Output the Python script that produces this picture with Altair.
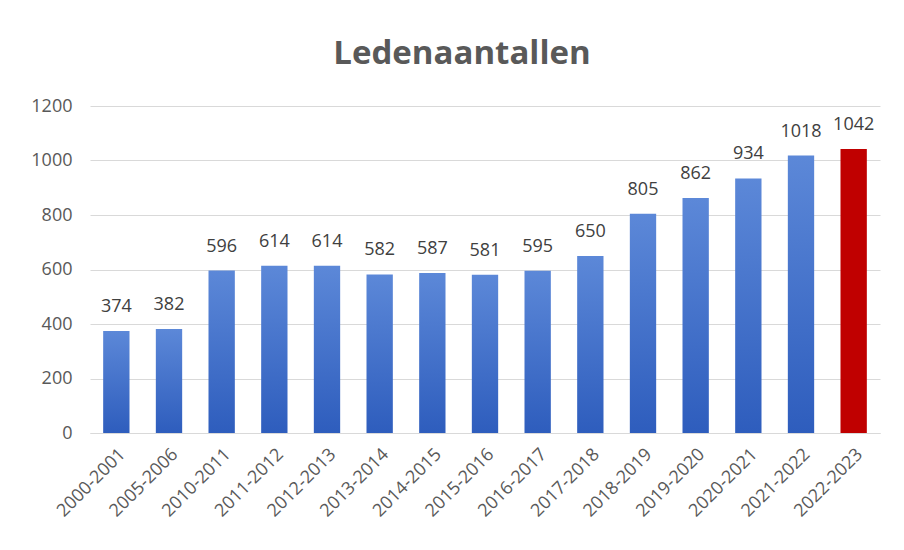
import altair as alt
import pandas as pd

seasons = ["2000-2001", "2005-2006", "2010-2011", "2011-2012", "2012-2013",
           "2013-2014", "2014-2015", "2015-2016", "2016-2017", "2017-2018",
           "2018-2019", "2019-2020", "2020-2021", "2021-2022", "2022-2023"]
members = [374, 382, 596, 614, 614, 582, 587, 581, 595, 650, 805, 862, 934, 1018, 1042]
highlight = [False] * 14 + [True]

df = pd.DataFrame({"seizoen": seasons, "leden": members, "laatste": highlight})

FONT = "Open Sans"

x = alt.X("seizoen:N", sort=seasons, title=None,
          scale=alt.Scale(paddingInner=0.5, paddingOuter=0.25),
          axis=alt.Axis(labelAngle=-45, labelAlign="right", labelBaseline="top",
                        labelFontSize=18, labelColor="#595959", labelFont=FONT,
                        ticks=False, domainColor="#d9d9d9", labelPadding=12))
y = alt.Y("leden:Q", title=None,
          scale=alt.Scale(domain=[0, 1200]),
          axis=alt.Axis(values=[0, 200, 400, 600, 800, 1000, 1200], format="d",
                        labelFontSize=18, labelColor="#595959", labelFont=FONT,
                        ticks=False, domain=False,
                        gridColor="#d9d9d9", labelPadding=18))

base = alt.Chart(df).encode(x=x, y=y)

blue = base.transform_filter("!datum.laatste").mark_bar(
    color=alt.Gradient(gradient="linear", x1=0, y1=0, x2=0, y2=1,
                       stops=[alt.GradientStop(color="#5c88d8", offset=0),
                              alt.GradientStop(color="#2e5dbd", offset=1)]))
red = base.transform_filter("datum.laatste").mark_bar(color="#c00000")
text = base.mark_text(dy=-24, fontSize=18, color="#404040", font=FONT).encode(
    text=alt.Text("leden:Q"))

chart = alt.layer(blue, red, text).properties(
    width=790, height=327,
    padding={"top": 30, "left": 22, "right": 5, "bottom": 5},
    title=alt.TitleParams("Ledenaantallen", fontSize=33, font=FONT, fontWeight="bold",
                          color="#595959", offset=26, anchor="middle", dx=-23),
    background="white",
).configure_view(stroke=None)

chart.save("out.html", embed_options={"renderer": "svg", "actions": False})
